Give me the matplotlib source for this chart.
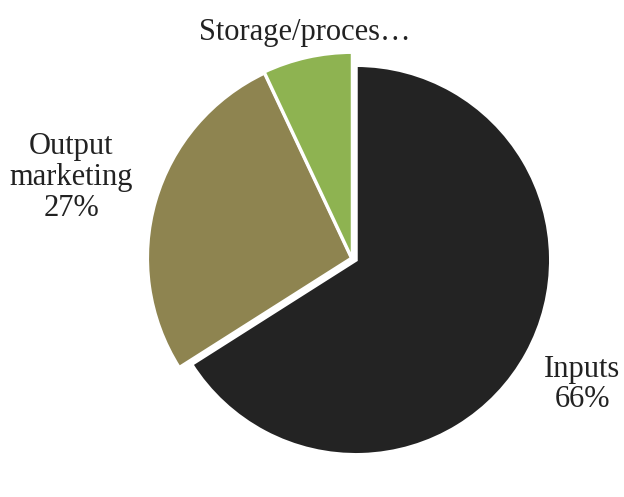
import matplotlib.pyplot as plt
import numpy as np

# shares of cost by stage
labels = ["Inputs", "Output\nmarketing", "Storage/proces…"]
values = [66, 27, 7]
colors = ["#232323", "#8e8450", "#8eb351"]
show_pct = [True, True, False]

# layout: per-slice centre offset and radius, label distance from centre
slice_offset = [(0.0, 0.0), (-0.0205, 0.0103), (-0.018, 0.0)]
slice_radius = [1.0, 1.051, 1.067]
label_dist = [1.326, 1.522, 1.198]

fig = plt.figure(figsize=(6.24, 4.97), dpi=100)
ax = fig.add_axes([0, 0, 1, 1])

wedges, _ = ax.pie(values, colors=colors, startangle=90, counterclock=False,
                   radius=1.0,
                   wedgeprops=dict(edgecolor="white", linewidth=2.5))

for w, off, rad in zip(wedges, slice_offset, slice_radius):
    w.set_center(off)
    w.set_radius(rad)

# labels around the pie, at each wedge's mid angle
for w, lab, v, pct, d in zip(wedges, labels, values, show_pct, label_dist):
    ang = np.deg2rad((w.theta1 + w.theta2) / 2)
    txt = lab + ("\n%d%%" % round(100 * v / sum(values)) if pct else "")
    ax.text(d * np.cos(ang), d * np.sin(ang), txt, ha="center", va="center",
            fontsize=22, family="Liberation Serif", color="#222222",
            linespacing=1.08)

unit = 194.75
ax.set_xlim(-356 / unit, (624 - 356) / unit)
ax.set_ylim(-(497 - 260) / unit, 260 / unit)
ax.set_aspect("auto")
ax.axis("off")

fig.savefig("out.png", dpi=100)
